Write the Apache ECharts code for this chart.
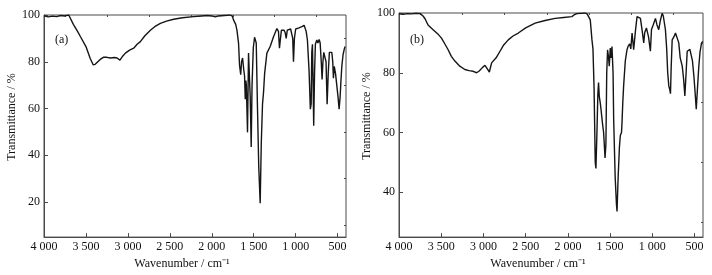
<!DOCTYPE html>
<html>
<head>
<meta charset="utf-8">
<script src="https://cdn.jsdelivr.net/npm/echarts@6/dist/echarts.min.js"></script>
<style>
  html, body { margin: 0; padding: 0; background: #fff; }
  #chart { width: 712px; height: 275px; }
</style>
</head>
<body>
<div id="chart"></div>
<script>
// spectrum (a)
var waveA = [4000,3950,3900,3850,3800,3750,3705,3650,3600,3565,3500,3450,3414,3390,3367,3330,3288,3250,3208,3160,3129,3110,3095,3060,3030,2980,2931,2890,2851,2800,2732,2680,2613,2540,2455,2350,2217,2120,2057,2000,1958,1920,1899,1780,1755,1740,1715,1700,1681,1669,1655,1645,1633,1620,1609,1601,1594,1588,1574,1562,1554,1542,1530,1520,1505,1490,1480,1470,1455,1440,1423,1410,1395,1383,1370,1343,1304,1264,1224,1205,1193,1184,1170,1155,1140,1125,1113,1100,1085,1060,1045,1035,1026,1015,1000,980,960,926,899,887,875,860,840,825,815,808,800,792,785,775,765,748,735,720,708,695,685,675,665,650,638,625,612,598,585,569,558,550,540,525,510,495,482,470,460,450,435,420,411];
var transA = [99.6,99.2,99.5,99.3,99.8,99.6,100,96,93,90.7,86.5,81.5,78.7,78.9,79.7,81,82,81.9,81.6,81.8,81.6,80.8,80.7,82.5,83.7,85,85.8,87.5,88.6,91,93.5,95,96.4,97.4,98.2,98.8,99.3,99.6,99.8,99.6,99.2,99.6,100,100,99.5,97.8,96,93.5,88,78.5,74.5,80,81.6,77,73.8,64,72,70,49.8,83.7,83.5,65,43.5,70,86,90.5,90.7,88,60,35,19.5,45,62,67,75,83.7,86.5,90.7,94.2,93,85.8,89,93.5,92.8,93.5,92.5,90,93.5,94.2,94,94.5,90,80,90,94,94.3,94.5,95,95.6,95,93,89.3,76,59.7,62,84,87.5,70,52.6,75,87.5,89.3,88,89.5,88,80,72.4,80,84,83.5,80,61.8,75,84,84.4,84,80,73,78,75,70,65,59.7,65,72,78,83,85.5,86.5];

// spectrum (b)
var waveB = [4000,3950,3900,3850,3800,3750,3715,3690,3656,3596,3540,3497,3460,3418,3380,3338,3280,3220,3170,3121,3081,3050,3010,2982,2960,2950,2930,2915,2903,2880,2850,2804,2760,2706,2650,2587,2500,2388,2270,2151,2050,1953,1920,1893,1795,1770,1755,1735,1715,1703,1690,1676,1668,1656,1645,1637,1628,1617,1608,1598,1590,1577,1560,1550,1540,1530,1518,1510,1498,1488,1478,1465,1458,1440,1425,1418,1405,1390,1379,1365,1359,1350,1340,1320,1300,1285,1268,1255,1240,1221,1200,1181,1165,1141,1120,1102,1090,1082,1070,1045,1023,1010,990,963,945,924,905,884,870,845,830,818,805,793,785,777,765,745,726,710,687,670,646,630,615,600,587,570,555,540,525,508,495,480,465,450,435,417,402];
var transB = [99.7,99.6,99.8,99.7,99.9,99.8,99,98,96,94.4,93,91.6,89.8,87.7,85.5,83.9,82.2,81.1,80.7,80.5,80,80.6,81.8,82.5,82,81.1,80.2,82,83.3,83.6,85,87.2,89.3,91,92.3,93.3,95,96.6,97.5,98.2,98.5,98.8,99.5,99.8,100,99.6,98.8,97.7,91,88,75,50,48,60,73,76.7,72,70,67.8,68,63,60,51.5,56,80,87.7,85,82.2,88.3,85,88.8,80,64.5,45,36,33.6,45,55,59,60,63.4,70,75.6,84,87.7,89,89.7,88,93.3,87.7,94,98.8,98.5,98.2,94,90,93.5,93.3,95,92,87.2,94.5,96,98.2,96,94.4,97.5,99.9,99,94.4,88,80,75.6,74.3,73,81.7,91,92,93.3,92,90,85,82.2,78,72.2,80,87.2,87.5,87.8,87.5,84,78.9,74,67.8,75,82,87,90,90.5];

// ticks
var xTicks = [4000,3500,3000,2500,2000,1500,1000,500];
var xMinor = [3750,3250,2750,2250,1750,1250,750];
var yTicksA = [20,40,60,80,100];
var yMinorA = [10,30,50,70,90];
var yTicksB = [40,60,80,100];
var yMinorB = [30,50,70,90];

var FONT = '"Liberation Serif", "Times New Roman", serif';
var AXIS = '#4a4a4a';

function fmtWave(v) {
  if (v >= 1000) {
    var r = v % 1000;
    return Math.floor(v / 1000) + ' ' + (r < 10 ? '00' : r < 100 ? '0' : '') + r;
  }
  return '' + v;
}

function pairs(xs, ys) {
  var out = [];
  for (var i = 0; i < xs.length; i++) out.push([xs[i], ys[i]]);
  return out;
}

function xAxisMain(gi, name) {
  return {
    type: 'value', gridIndex: gi, inverse: true, min: 400, max: 4000,
    name: name, nameLocation: 'middle', nameGap: 17,
    nameTextStyle: { fontFamily: FONT, fontSize: 12, color: '#111', padding: [0, 26, 0, 0] },
    axisLine: { lineStyle: { color: AXIS, width: 1 } },
    axisTick: { inside: true, length: 4, customValues: xTicks, lineStyle: { color: AXIS } },
    axisLabel: { customValues: xTicks, formatter: fmtWave, fontFamily: FONT, fontSize: 12, color: '#111', margin: 4 },
    splitLine: { show: false }
  };
}
function xAxisMinor(gi) {
  return {
    type: 'value', gridIndex: gi, inverse: true, min: 400, max: 4000,
    axisLine: { show: false },
    axisTick: { inside: true, length: 2, customValues: xMinor, lineStyle: { color: AXIS } },
    axisLabel: { show: false },
    splitLine: { show: false }
  };
}
function yAxisMain(gi, min, ticks) {
  return {
    type: 'value', gridIndex: gi, min: min, max: 100,
    name: 'Transmittance / %', nameLocation: 'middle', nameGap: 25,
    // shift the title a little up along the axis
    nameTextStyle: { fontFamily: FONT, fontSize: 12, color: '#111', padding: [0, 0, 0, 18] },
    axisLine: { show: true, lineStyle: { color: AXIS, width: 1 } },
    axisTick: { show: true, inside: true, length: 4, customValues: ticks, lineStyle: { color: AXIS } },
    axisLabel: { customValues: ticks, fontFamily: FONT, fontSize: 12, color: '#111', margin: 4 },
    splitLine: { show: false }
  };
}
function yAxisMinor(gi, min, ticks) {
  return {
    type: 'value', gridIndex: gi, min: min, max: 100,
    axisLine: { show: false },
    axisTick: { show: true, inside: true, length: 2, customValues: ticks, lineStyle: { color: AXIS } },
    axisLabel: { show: false },
    splitLine: { show: false }
  };
}

var chart = echarts.init(document.getElementById('chart'), null, { renderer: 'canvas' });
chart.setOption({
  animation: false,
  backgroundColor: '#fff',
  grid: [
    { left: 44, top: 15, width: 302, height: 224, show: true, borderColor: AXIS, borderWidth: 1, backgroundColor: 'transparent' },
    { left: 399, top: 13, width: 304, height: 226, show: true, borderColor: AXIS, borderWidth: 1, backgroundColor: 'transparent' }
  ],
  xAxis: [
    xAxisMain(0, 'Wavenumber / cm\u207B\u00B9'),
    xAxisMinor(0),
    xAxisMain(1, 'Wavenumber / cm\u207B\u00B9'),
    xAxisMinor(1)
  ],
  yAxis: [
    yAxisMain(0, 5, yTicksA),
    yAxisMinor(0, 5, yMinorA),
    yAxisMain(1, 25, yTicksB),
    yAxisMinor(1, 25, yMinorB)
  ],
  graphic: [
    { type: 'text', left: 55, top: 34, style: { text: '(a)', font: '12px ' + FONT, fill: '#111' } },
    { type: 'text', left: 410, top: 34, style: { text: '(b)', font: '12px ' + FONT, fill: '#111' } }
  ],
  series: [
    {
      type: 'line', xAxisIndex: 0, yAxisIndex: 0, showSymbol: false,
      data: pairs(waveA, transA),
      lineStyle: { color: '#151515', width: 1.4 }
    },
    {
      type: 'line', xAxisIndex: 2, yAxisIndex: 2, showSymbol: false,
      data: pairs(waveB, transB),
      lineStyle: { color: '#151515', width: 1.4 }
    }
  ]
});
</script>
</body>
</html>
